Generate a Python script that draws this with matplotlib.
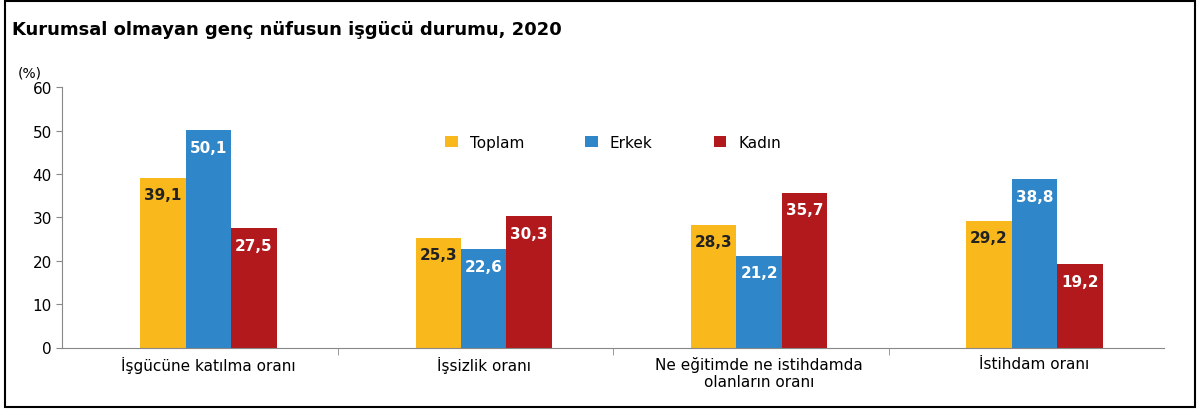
import matplotlib
matplotlib.use("Agg")
import matplotlib.pyplot as plt
import numpy as np
from matplotlib.patches import Rectangle

categories = ["İşgücüne katılma oranı", "İşsizlik oranı", "Ne eğitimde ne istihdamda\nolanların oranı", "İstihdam oranı"]
toplam = [39.1, 25.3, 28.3, 29.2]
erkek = [50.1, 22.6, 21.2, 38.8]
kadin = [27.5, 30.3, 35.7, 19.2]
series = ["Toplam", "Erkek", "Kadın"]
colors = ["#F9B81C", "#2F86C8", "#B2191D"]
txtcol = ["#222222", "white", "white"]

fig = plt.figure(figsize=(12, 4.1), dpi=100)
fig.patches.append(Rectangle((0.004, 0.006), 0.992, 0.988, transform=fig.transFigure,
                             fill=False, edgecolor="black", linewidth=1.5))
ax = fig.add_axes([0.052, 0.15, 0.918, 0.635])
x = np.arange(len(categories)) + 0.03
w = 0.165
for i, (vals, c, tc, name) in enumerate(zip([toplam, erkek, kadin], colors, txtcol, series)):
    pos = x + (i - 1) * w
    ax.bar(pos, vals, width=w, color=c, label=name, edgecolor="none")
    for p, v in zip(pos, vals):
        ax.text(p, v - 2.2, f"{v:.1f}".replace(".", ","), ha="center", va="top",
                color=tc, fontsize=11, fontweight="bold")
ax.set_xlim(-0.5, 3.5)
ax.set_ylim(0, 60)
ax.set_yticks(range(0, 61, 10))
ax.set_xticks(x)
ax.set_xticklabels(categories, fontsize=11, va="top")
ax.tick_params(axis="x", length=0, pad=6)
ax.set_xticks([0.5, 1.5, 2.5], minor=True)
ax.tick_params(axis="x", which="minor", length=5, color="#888888")
ax.tick_params(axis="y", labelsize=11, color="#888888", length=4)
for s in ["top", "right"]:
    ax.spines[s].set_visible(False)
ax.spines["left"].set_color("#888888")
ax.spines["bottom"].set_color("#888888")
ax.text(-0.03, 1.04, "(%)", transform=ax.transAxes, fontsize=10, ha="center")
fig.text(0.01, 0.915, "Kurumsal olmayan genç nüfusun işgücü durumu, 2020", fontsize=13,
         fontweight="bold", ha="left")
ax.legend(loc="upper center", bbox_to_anchor=(0.5, 0.87), ncol=3, frameon=False,
          fontsize=11, handlelength=0.8, handleheight=0.8, columnspacing=4)
fig.savefig("out.png")
